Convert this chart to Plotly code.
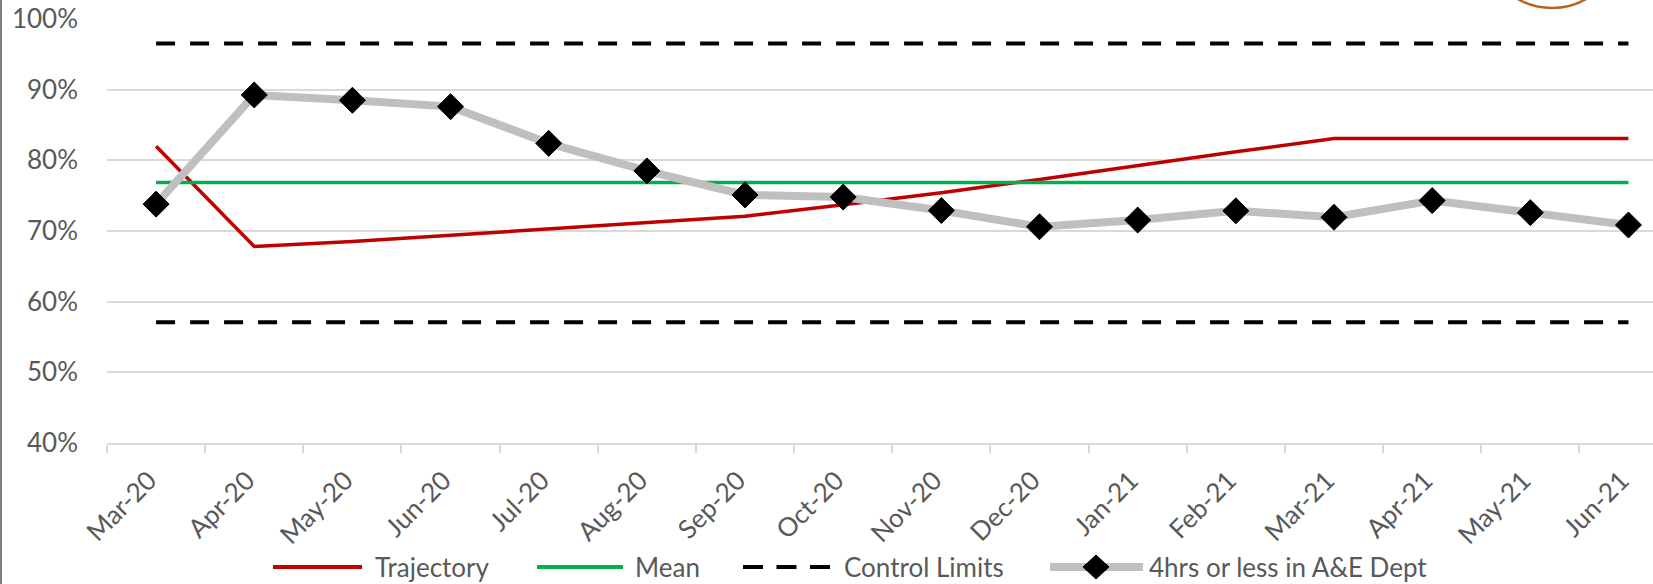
import plotly.graph_objects as go

# Monthly categories
months = ["Mar-20", "Apr-20", "May-20", "Jun-20", "Jul-20", "Aug-20", "Sep-20", "Oct-20",
          "Nov-20", "Dec-20", "Jan-21", "Feb-21", "Mar-21", "Apr-21", "May-21", "Jun-21"]

# Series values (percent)
trajectory = [82.0, 67.8, 68.5, 69.4, 70.3, 71.2, 72.1, 73.7,
              75.4, 77.3, 79.3, 81.2, 83.1, 83.1, 83.1, 83.1]
ae_4hrs = [73.8, 89.25, 88.5, 87.6, 82.4, 78.5, 75.1, 74.8,
           72.9, 70.6, 71.55, 72.85, 71.95, 74.3, 72.6, 70.85]
mean_value = 76.85
upper_limit = 96.55
lower_limit = 57.1

y_ticks = [40, 50, 60, 70, 80, 90, 100]
y_labels = ["40%", "50%", "60%", "70%", "80%", "90%", "100%"]

legend_names = ["Trajectory", "Mean", "Control Limits", "4hrs or less in A&E Dept"]

RED = "#c00000"
GREEN = "#00b050"
BLACK = "#000000"
GREY = "#bfbfbf"
TEXT = "#595959"
GRID = "#d9d9d9"
FONT = "Lato"

W, H = 1653, 584
ML, MR, MT, MB = 107, 0, 19, 141
PW, PH = W - ML - MR, H - MT - MB

n = len(months)
mean_line = [mean_value] * n
ucl_line = [upper_limit] * n
lcl_line = [lower_limit] * n

fig = go.Figure()
fig.add_trace(go.Scatter(x=months, y=trajectory, mode="lines", name=legend_names[0],
                         line=dict(color=RED, width=3.5), showlegend=False))
fig.add_trace(go.Scatter(x=months, y=mean_line, mode="lines", name=legend_names[1],
                         line=dict(color=GREEN, width=3.5), showlegend=False))
fig.add_trace(go.Scatter(x=months, y=ucl_line, mode="lines", name=legend_names[2],
                         line=dict(color=BLACK, width=4, dash="19px,15px"), showlegend=False))
fig.add_trace(go.Scatter(x=months, y=lcl_line, mode="lines", name=legend_names[2],
                         line=dict(color=BLACK, width=4, dash="19px,15px"), showlegend=False))
fig.add_trace(go.Scatter(x=months, y=ae_4hrs, mode="lines+markers", name=legend_names[3],
                         line=dict(color=GREY, width=8),
                         marker=dict(symbol="diamond", size=20, color=BLACK,
                                     line=dict(color=BLACK, width=1)),
                         cliponaxis=False, showlegend=False))


def px_x(p):
    return (p - ML) / PW


def px_y(p):
    return (H - MB - p) / PH


shapes = []
annotations = []

# Legend drawn below the axis
leg_y = 567
items = [
    (273, 362, RED, 4, None, 373, legend_names[0]),
    (537, 623, GREEN, 4, None, 633, legend_names[1]),
    (743, 830, BLACK, 4, "dash", 842, legend_names[2]),
    (1050, 1143, GREY, 8, None, 1147, legend_names[3]),
]
for x0, x1, col, w, dash, tx, label in items:
    if dash:
        seg = 20
        gap = (x1 - x0 - 3 * seg) / 2
        for k in range(3):
            a = x0 + k * (seg + gap)
            shapes.append(dict(type="line", xref="paper", yref="paper",
                               x0=px_x(a), x1=px_x(a + seg), y0=px_y(leg_y), y1=px_y(leg_y),
                               line=dict(color=col, width=w)))
    else:
        shapes.append(dict(type="line", xref="paper", yref="paper",
                           x0=px_x(x0), x1=px_x(x1), y0=px_y(leg_y), y1=px_y(leg_y),
                           line=dict(color=col, width=w)))
    annotations.append(dict(text=label, xref="paper", yref="paper", x=px_x(tx), y=px_y(leg_y),
                            xanchor="left", yanchor="middle", showarrow=False,
                            font=dict(family=FONT, size=26, color=TEXT)))

# Diamond marker in the last legend sample
cx, cy, hw, hh = 1096, 567, 13, 12
shapes.append(dict(type="path", xref="paper", yref="paper",
                   path=f"M {px_x(cx - hw)},{px_y(cy)} L {px_x(cx)},{px_y(cy - hh)} "
                        f"L {px_x(cx + hw)},{px_y(cy)} L {px_x(cx)},{px_y(cy + hh)} Z",
                   fillcolor=BLACK, line=dict(color=BLACK, width=1)))

# Left frame edge
shapes.append(dict(type="line", xref="paper", yref="paper",
                   x0=px_x(1), x1=px_x(1), y0=px_y(0), y1=px_y(H),
                   line=dict(color="#7f7f7f", width=2)))

# Partial logo ring at the top-right corner
shapes.append(dict(type="circle", xref="paper", yref="paper",
                   x0=px_x(1552 - 68), x1=px_x(1552 + 68), y0=px_y(-60 - 68), y1=px_y(-60 + 68),
                   line=dict(color="#b5651d", width=2.5)))

fig.update_layout(
    width=W, height=H, autosize=False,
    margin=dict(l=ML, r=MR, t=MT, b=MB, pad=0),
    paper_bgcolor="white", plot_bgcolor="white",
    font=dict(family=FONT, size=26, color=TEXT),
    shapes=shapes, annotations=annotations,
    showlegend=False,
    xaxis=dict(type="category", range=[-0.5, 15.25], tickson="boundaries",
               ticks="outside", ticklen=8, tickwidth=2, tickcolor=GRID,
               showline=True, linecolor=GRID, linewidth=2, showgrid=False,
               tickangle=-45, ticklabelstandoff=10, ticklabelshift=-7,
               tickfont=dict(family=FONT, size=26, color=TEXT)),
    yaxis=dict(range=[40, 100], tickvals=y_ticks, ticktext=y_labels,
               showgrid=True, gridcolor=GRID, gridwidth=2, zeroline=False,
               showline=False, ticks="", ticklabelstandoff=28,
               tickfont=dict(family=FONT, size=26, color=TEXT)),
)

fig.write_html("out.html")
